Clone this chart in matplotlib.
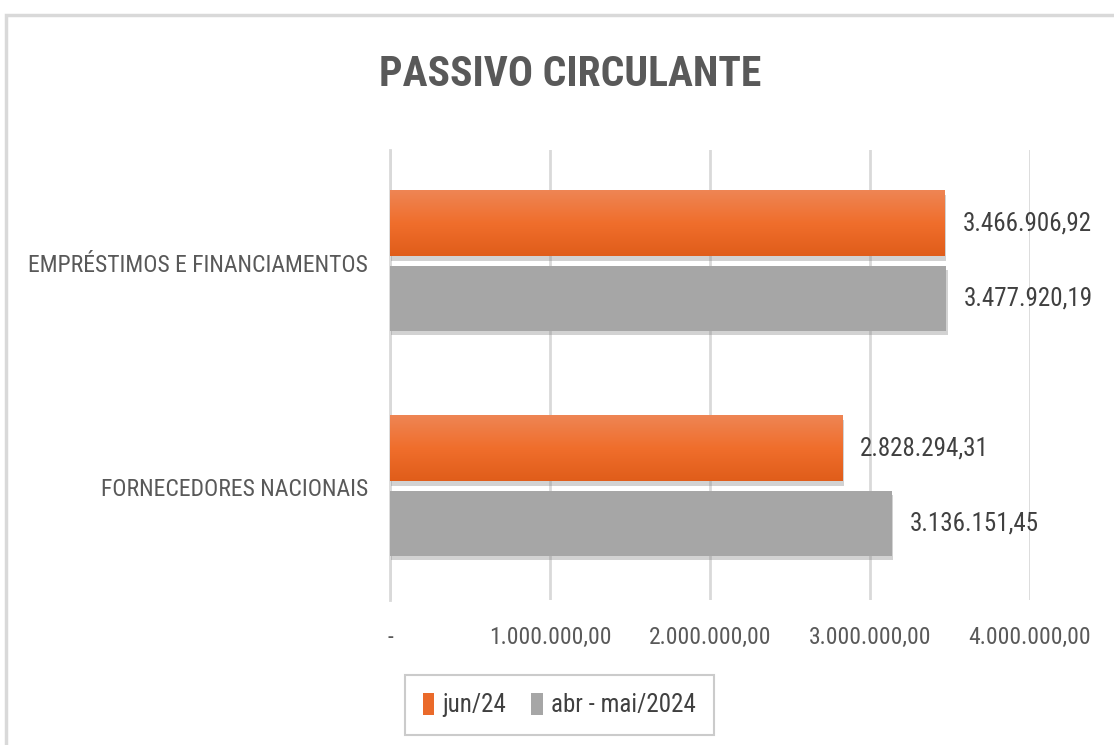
import matplotlib.pyplot as plt
import matplotlib.patheffects as pe
from matplotlib.patches import Rectangle, Patch
from matplotlib.colors import LinearSegmentedColormap
from matplotlib.font_manager import fontManager
import numpy as np

# dados
categorias = ['FORNECEDORES NACIONAIS', 'EMPRÉSTIMOS E FINANCIAMENTOS']
jun24 = [2828294.31, 3466906.92]
abr_mai = [3136151.45, 3477920.19]
ticks = [0, 1000000, 2000000, 3000000, 4000000]
tick_labels = ['-', '1.000.000,00', '2.000.000,00', '3.000.000,00', '4.000.000,00']

# fonte estreita, se houver
names = {f.name for f in fontManager.ttflist}
fam = 'DejaVu Sans'
for c in ['Roboto Condensed', 'Liberation Sans Narrow', 'Open Sans Condensed', 'Noto Sans Condensed',
          'Arial Narrow', 'Roboto', 'Liberation Sans']:
    if c in names:
        fam = c
        break
plt.rcParams['font.family'] = [fam, 'DejaVu Sans']

def fmt(v):
    s = f'{v:,.2f}'
    return s.replace(',', 'X').replace('.', ',').replace('X', '.')

W, H = 1114, 745
fig = plt.figure(figsize=(W/100, H/100), dpi=100)
ax = fig.add_axes([390/W, 1-600/H, 640/W, 450/H])

# moldura externa
fig.patches.append(Rectangle((6/W, -0.1), 1.2, 1-15/H+0.1, transform=fig.transFigure,
                             fill=False, edgecolor='#d9d9d9', linewidth=2.5))

y = np.arange(len(categorias))
h = 0.29
gap = 0.027
sombra = [pe.SimplePatchShadow(offset=(1, -3), shadow_rgbFace='#7f7f7f', alpha=0.35), pe.Normal()]

b1 = ax.barh(y + h/2 + gap, jun24, height=h, color='#ea6a2a', zorder=3, path_effects=sombra)
b2 = ax.barh(y - h/2 - gap/2, abr_mai, height=h, color='#a6a6a6', zorder=3, path_effects=sombra)

# degradê nas barras laranja (claro em cima, escuro embaixo)
grad = np.linspace(0, 1, 100).reshape(-1, 1)
cmap = LinearSegmentedColormap.from_list('lar', ['#ee8554', '#f06e2c', '#e05d1a'])
for r in b1:
    x0, y0 = r.get_x(), r.get_y()
    ax.imshow(grad, cmap=cmap, aspect='auto', origin='upper',
              extent=(x0, x0 + r.get_width(), y0, y0 + r.get_height()), zorder=3.5)

for r, v in zip(list(b1) + list(b2), jun24 + abr_mai):
    ax.text(v + 110000, r.get_y() + r.get_height()/2, fmt(v), va='center', ha='left',
            fontsize=18, color='#404040')

ax.set_xlim(0, 4000000)
ax.set_ylim(-0.5, 1.5)
ax.set_xticks(ticks)
ax.set_xticklabels(tick_labels, fontsize=17, color='#595959')
ax.set_yticks(y)
ax.set_yticklabels(categorias, fontsize=17, color='#595959')
ax.tick_params(axis='y', length=0, pad=16)
ax.tick_params(axis='x', length=0, pad=19)
ax.grid(axis='x', color='#d9d9d9', linewidth=2, zorder=0)
ax.set_axisbelow(True)
for s in ['top', 'right', 'bottom']:
    ax.spines[s].set_visible(False)
ax.spines['left'].set_color('#d9d9d9')
ax.spines['left'].set_linewidth(2)

fig.text(570/W, 1-75/H, 'PASSIVO CIRCULANTE', ha='center', va='center',
         fontsize=30, fontweight='bold', color='#595959')

handles = [Patch(facecolor='#ea6a2a', label='jun/24'), Patch(facecolor='#a6a6a6', label='abr - mai/2024')]
leg = ax.legend(handles=handles, loc='upper left', bbox_to_anchor=(15/640, -75/450), ncol=2,
                fontsize=18, frameon=True, fancybox=False, edgecolor='#bfbfbf',
                handlelength=0.45, handleheight=1.0, handletextpad=0.35, columnspacing=1.0,
                labelcolor='#404040', borderpad=0.7, borderaxespad=0)
leg.get_frame().set_linewidth(1.5)

fig.savefig('out.png', dpi=100)
